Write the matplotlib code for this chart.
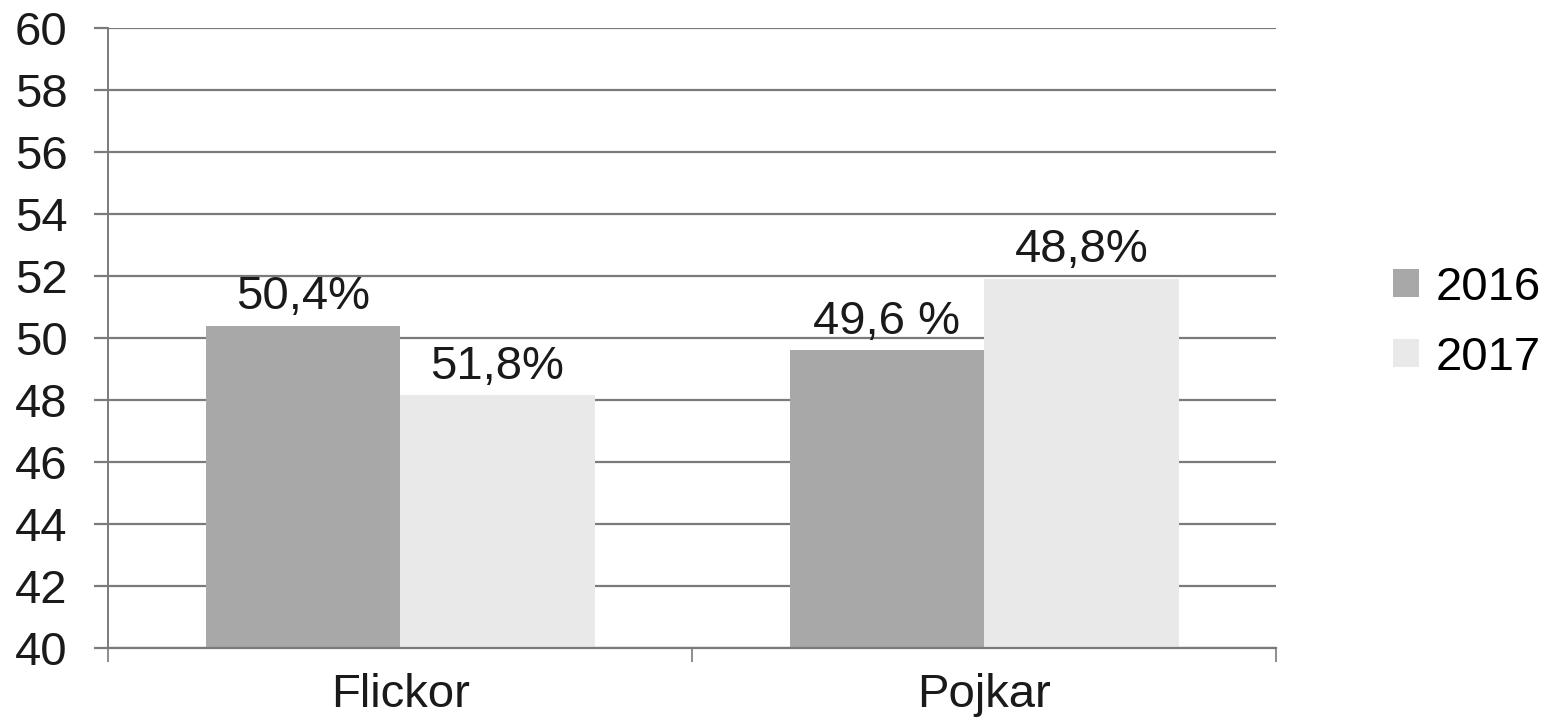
import numpy as np
import matplotlib.pyplot as plt

plt.rcParams["font.family"] = ["Liberation Sans", "DejaVu Sans"]

categories = ["Flickor", "Pojkar"]
years = ["2016", "2017"]
values_2016 = [50.4, 49.6]
values_2017 = [48.15, 51.9]
labels_2016 = ["50,4%", "49,6 %"]
labels_2017 = ["51,8%", "48,8%"]
yticks = list(range(40, 61, 2))

colors = ["#a8a8a8", "#e9e9e9"]
fs = 34

fig = plt.figure(figsize=(15.46, 7.26), dpi=100)
ax = fig.add_axes([0.0699, 0.1074, 0.7555, 0.854])

x = np.arange(len(categories))
width = 0.333

bars1 = ax.bar(x - width / 2, values_2016, width, color=colors[0], label=years[0], zorder=2)
bars2 = ax.bar(x + width / 2, values_2017, width, color=colors[1], label=years[1], zorder=2)

for bars, labels in [(bars1, labels_2016), (bars2, labels_2017)]:
    for b, lab in zip(bars, labels):
        ax.annotate(
            lab,
            (b.get_x() + b.get_width() / 2, b.get_height()),
            xytext=(0, 12),
            textcoords="offset points",
            ha="center",
            va="baseline",
            fontsize=fs,
            color="#1a1a1a",
        )

ax.set_ylim(40, 60)
ax.set_xlim(-0.5, 1.5)
ax.set_yticks(yticks)
ax.set_yticklabels([str(t) for t in yticks], fontsize=fs)
ax.yaxis.grid(True, color="#7a7a7a", linewidth=1.6, zorder=0)
ax.set_axisbelow(True)

ax.set_xticks(x)
ax.set_xticklabels(categories, fontsize=fs)
ax.set_xticks([-0.5, 0.5, 1.5], minor=True)
ax.tick_params(axis="x", which="major", length=0, pad=18, colors="#1a1a1a")
ax.tick_params(axis="x", which="minor", length=10, width=1.2, color="#7a7a7a")
ax.tick_params(axis="y", length=10, width=1.6, color="#7a7a7a", pad=19, labelcolor="#1a1a1a")

for s in ["top", "right"]:
    ax.spines[s].set_visible(False)
ax.spines["left"].set_color("#7a7a7a")
ax.spines["left"].set_linewidth(1.4)
ax.spines["bottom"].set_color("#7a7a7a")
ax.spines["bottom"].set_linewidth(1.6)

leg = ax.legend(
    loc="center left",
    bbox_to_anchor=(1.1, 0.525),
    frameon=False,
    fontsize=fs,
    borderpad=0,
    borderaxespad=0,
    handlelength=0.55,
    handleheight=0.55,
    handletextpad=0.35,
    labelspacing=0.55,
)

plt.savefig("out.png", dpi=100)
plt.close()
